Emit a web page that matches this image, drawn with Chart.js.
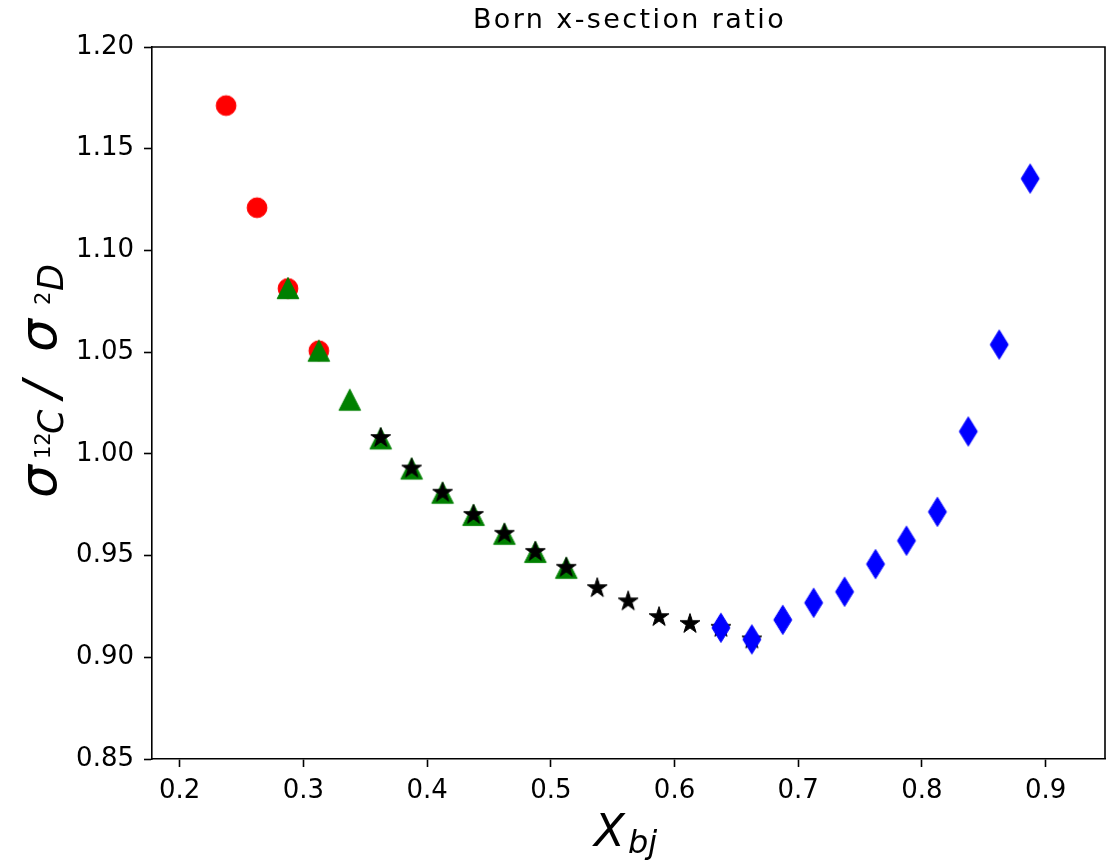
<!DOCTYPE html>
<html><head><meta charset="utf-8">
<script src="https://cdn.jsdelivr.net/npm/chart.js@4.4.1/dist/chart.umd.min.js"></script>
<style>html,body{margin:0;padding:0;background:#fff;}#wrap{width:1107px;height:862px;}</style>
</head><body><div id="wrap"><canvas id="c" width="1107" height="862"></canvas></div>
<script>
// ---- data ----
const titleText = 'Born x-section ratio';
const xTicks = [0.2, 0.3, 0.4, 0.5, 0.6, 0.7, 0.8, 0.9];
const yTicks = [0.85, 0.90, 0.95, 1.00, 1.05, 1.10, 1.15, 1.20];

const xRed = [0.2375, 0.2625, 0.2875, 0.3125];
const yRed = [1.1712, 1.1210, 1.0813, 1.0507];

const xGreen = [0.2875, 0.3125, 0.3375, 0.3625, 0.3875, 0.4125, 0.4375, 0.4625, 0.4875, 0.5125];
const yGreen = [1.0815, 1.0507, 1.0266, 1.0076, 0.9928, 0.9809, 0.9700, 0.9607, 0.9518, 0.9440];

const xBlack = [0.3625, 0.3875, 0.4125, 0.4375, 0.4625, 0.4875, 0.5125, 0.5375, 0.5625, 0.5875, 0.6125, 0.6375, 0.6625];
const yBlack = [1.0078, 0.9928, 0.9809, 0.9700, 0.9607, 0.9518, 0.9440, 0.9340, 0.9275, 0.9198, 0.9164, 0.9145, 0.9088];

const xBlue = [0.6375, 0.6625, 0.6875, 0.7125, 0.7375, 0.7625, 0.7875, 0.8125, 0.8375, 0.8625, 0.8875];
const yBlue = [0.9145, 0.9088, 0.9184, 0.9268, 0.9322, 0.9458, 0.9573, 0.9715, 1.0110, 1.0537, 1.1353];

// ---- marker images (matplotlib-like shapes) ----
function marker(kind, color) {
  const S = 36, c = document.createElement('canvas');
  c.width = S; c.height = S;
  const g = c.getContext('2d');
  const m = S / 2;
  g.fillStyle = color; g.strokeStyle = color; g.lineWidth = 1; g.lineJoin = 'miter';
  g.beginPath();
  if (kind === 'circle') {
    g.arc(m, m, 9.9, 0, Math.PI * 2);
  } else if (kind === 'triangle') {
    g.moveTo(m, m - 10.6); g.lineTo(m - 10.8, m + 10.6); g.lineTo(m + 10.8, m + 10.6);
  } else if (kind === 'star') {
    const R = 10.4, r = R * 0.381966;
    for (let i = 0; i < 10; i++) {
      const rr = i % 2 ? r : R;
      const a = -Math.PI / 2 + i * Math.PI / 5;
      const px = m + rr * Math.cos(a), py = m + rr * Math.sin(a);
      i ? g.lineTo(px, py) : g.moveTo(px, py);
    }
  } else if (kind === 'diamond') {
    g.moveTo(m, m - 14.6); g.lineTo(m + 9, m); g.lineTo(m, m + 14.6); g.lineTo(m - 9, m);
  }
  g.closePath(); g.fill(); g.stroke();
  return c;
}

const pts = (xs, ys) => xs.map((x, i) => ({x: x, y: ys[i]}));

const textPlugin = {
  id: 'texts',
  afterDraw(chart) {
    const ctx = chart.ctx, a = chart.chartArea;
    ctx.save();
    // top & right spines
    ctx.strokeStyle = '#000'; ctx.lineWidth = 1.6;
    ctx.beginPath();
    ctx.moveTo(a.left, a.top); ctx.lineTo(a.right, a.top); ctx.lineTo(a.right, a.bottom);
    ctx.stroke();
    ctx.fillStyle = '#000';
    // title
    ctx.font = '27px "DejaVu Sans"';
    ctx.letterSpacing = '2.4px';
    ctx.textAlign = 'center'; ctx.textBaseline = 'alphabetic';
    ctx.fillText(titleText, (a.left + a.right) / 2 + 1, 28);
    ctx.letterSpacing = '0px';
    // x label  X_{bj}
    ctx.textAlign = 'left';
    ctx.font = 'italic 45px "DejaVu Sans"';
    ctx.fillText('X', 594, 846);
    ctx.font = 'italic 32px "DejaVu Sans"';
    ctx.fillText('bj', 628, 853);
    // y label  σ_{12C} / σ_{2D}
    ctx.translate(56, 498);
    ctx.rotate(-Math.PI / 2);
    const parts = [
      ['σ', 'italic 52px "DejaVu Sans"', 0, 0],
      ['12', '21px "DejaVu Sans"', 39, -6],
      ['C', 'italic 35px "DejaVu Sans"', 64, 7],
      ['/', 'italic 50px "DejaVu Sans"', 100, 2],
      ['σ', 'italic 52px "DejaVu Sans"', 146, 0],
      ['2', '21px "DejaVu Sans"', 193, -6],
      ['D', 'italic 35px "DejaVu Sans"', 207, 7]
    ];
    for (const [t, f, dx, dy] of parts) {
      ctx.font = f; ctx.fillText(t, dx, dy);
    }
    ctx.restore();
  }
};

const tickFont = {family: 'DejaVu Sans', size: 26};

new Chart(document.getElementById('c'), {
  type: 'scatter',
  data: {
    datasets: [
      {label: 'red', data: pts(xRed, yRed), pointStyle: marker('circle', '#ff0000'), pointRadius: 10, order: 4},
      {label: 'green', data: pts(xGreen, yGreen), pointStyle: marker('triangle', '#008000'), pointRadius: 10, order: 3},
      {label: 'black', data: pts(xBlack, yBlack), pointStyle: marker('star', '#000000'), pointRadius: 10, order: 2},
      {label: 'blue', data: pts(xBlue, yBlue), pointStyle: marker('diamond', '#0000ff'), pointRadius: 10, order: 1}
    ]
  },
  options: {
    responsive: false,
    animation: false,
    devicePixelRatio: 1,
    layout: {autoPadding: false, padding: {top: 47, right: 2, left: 0, bottom: 0}},
    plugins: {legend: {display: false}, tooltip: {enabled: false}, title: {display: false}},
    scales: {
      x: {
        type: 'linear', min: 0.1776, max: 0.948,
        afterBuildTicks: s => { s.ticks = xTicks.map(v => ({value: v})); },
        afterFit: s => { s.height = 103; s.paddingLeft = 0; s.paddingRight = 0; },
        ticks: {callback: v => v.toFixed(1), font: tickFont, color: '#000', padding: 9, maxRotation: 0, autoSkip: false},
        grid: {drawOnChartArea: false, drawTicks: true, tickLength: 8, tickWidth: 1.6, tickColor: '#000'},
        border: {display: true, color: '#000', width: 1.6}
      },
      y: {
        type: 'linear', min: 0.85, max: 1.20,
        afterBuildTicks: s => { s.ticks = yTicks.map(v => ({value: v})); },
        afterFit: s => { s.width = 152; s.paddingTop = 0; s.paddingBottom = 0; },
        ticks: {callback: v => v.toFixed(2), font: tickFont, color: '#000', padding: 10, autoSkip: false},
        grid: {drawOnChartArea: false, drawTicks: true, tickLength: 8, tickWidth: 1.6, tickColor: '#000'},
        border: {display: true, color: '#000', width: 1.6}
      }
    }
  },
  plugins: [textPlugin]
});
</script></body></html>
